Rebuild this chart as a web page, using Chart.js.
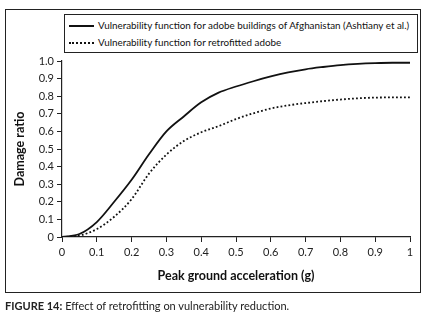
<!DOCTYPE html>
<html>
<head>
<meta charset="utf-8">
<script src="https://cdn.jsdelivr.net/npm/chart.js@4.4.1/dist/chart.umd.min.js"></script>
<style>
  html, body { margin: 0; padding: 0; background: #fff; }
  #wrap { position: relative; width: 427px; height: 323px; overflow: hidden; font-family: Lato, "Open Sans", sans-serif; }
  #c { position: absolute; left: 0; top: 0; }
  #frame { position: absolute; left: 5px; top: 9px; width: 414px; height: 282px; border: 1.5px solid #222; }
  #legend { position: absolute; left: 64px; top: 14px; width: 352px; height: 37px; border: 1.2px solid #222; background: #fff; }
  .li { position: absolute; left: 0; height: 14px; font-size: 9.85px; color: #111; white-space: nowrap; }
  .li .sw { position: absolute; left: 4px; top: 7px; width: 25px; height: 0; }
  .li .tx { position: absolute; left: 33px; top: 0; line-height: 14px; }
  #caption { position: absolute; left: 5px; top: 299px; font-size: 11px; color: #222; white-space: nowrap; }
</style>
</head>
<body>
<div id="wrap">
  <div id="frame"></div>
  <canvas id="c" width="427" height="323"></canvas>
  <div id="legend">
    <div class="li" style="top:3px"><div class="sw" style="border-top:2px solid #111"></div><div class="tx" id="l0"></div></div>
    <div class="li" style="top:20px"><div class="sw" style="border-top:2px dotted #111"></div><div class="tx" id="l1"></div></div>
  </div>
  <div id="caption"><b>FIGURE 14:</b> Effect of retrofitting on vulnerability reduction.</div>
</div>
<script>
// ---- data ----
const pga = [0, 0.05, 0.1, 0.15, 0.2, 0.25, 0.3, 0.35, 0.4, 0.45, 0.5, 0.55, 0.6, 0.65, 0.7, 0.75, 0.8, 0.85, 0.9, 0.95, 1.0];
const adobeDamage = [0, 0.017, 0.085, 0.2, 0.325, 0.47, 0.6, 0.685, 0.765, 0.82, 0.855, 0.885, 0.912, 0.935, 0.953, 0.966, 0.977, 0.984, 0.988, 0.99, 0.99];
const retrofittedDamage = [0, 0.008, 0.045, 0.115, 0.215, 0.36, 0.468, 0.545, 0.595, 0.63, 0.67, 0.703, 0.73, 0.748, 0.761, 0.772, 0.781, 0.788, 0.792, 0.793, 0.793];
const seriesNames = ["Vulnerability function for adobe buildings of Afghanistan (Ashtiany et al.)", "Vulnerability function for retrofitted adobe"];
const xTickLabels = ["0", "0.1", "0.2", "0.3", "0.4", "0.5", "0.6", "0.7", "0.8", "0.9", "1"];
const yTickLabels = ["0", "0.1", "0.2", "0.3", "0.4", "0.5", "0.6", "0.7", "0.8", "0.9", "1.0"];
const xTitle = "Peak ground acceleration (g)";
const yTitle = "Damage ratio";

document.getElementById('l0').textContent = seriesNames[0];
document.getElementById('l1').textContent = seriesNames[1];

const FONT = 'Lato, "Open Sans", sans-serif';
const toXY = arr => arr.map((v, i) => ({ x: pga[i], y: v }));

new Chart(document.getElementById('c'), {
  type: 'line',
  data: {
    datasets: [
      { label: seriesNames[0], data: toXY(adobeDamage), borderColor: '#111', borderWidth: 1.8, pointRadius: 0, cubicInterpolationMode: 'monotone', fill: false },
      { label: seriesNames[1], data: toXY(retrofittedDamage), borderColor: '#111', borderWidth: 1.8, borderDash: [1.8, 2.2], pointRadius: 0, cubicInterpolationMode: 'monotone', fill: false }
    ]
  },
  options: {
    responsive: false,
    animation: false,
    devicePixelRatio: 1,
    layout: { padding: { left: 0, right: 17, top: 61, bottom: 40 } },
    plugins: { legend: { display: false }, tooltip: { enabled: false } },
    scales: {
      x: {
        type: 'linear', min: 0, max: 1,
        afterFit: s => { s.height = 46; },
        ticks: { stepSize: 0.1, autoSkip: false, maxRotation: 0, padding: 4, color: '#222', font: { family: FONT, size: 11 },
                 callback: (v, i) => xTickLabels[i] },
        grid: { drawOnChartArea: false, drawTicks: true, tickLength: 5, color: '#222', lineWidth: 1 },
        border: { display: true, color: '#222', width: 1.2 },
        title: { display: true, text: xTitle, color: '#111', font: { family: FONT, size: 12.5, weight: 'bold' }, padding: { top: 8, bottom: 0 } }
      },
      y: {
        type: 'linear', min: 0, max: 1,
        afterFit: s => { s.width = 62; },
        ticks: { stepSize: 0.1, autoSkip: false, padding: 3, color: '#222', font: { family: FONT, size: 11 },
                 callback: (v, i) => yTickLabels[i] },
        grid: { drawOnChartArea: false, drawTicks: true, tickLength: 5, color: '#222', lineWidth: 1 },
        border: { display: true, color: '#222', width: 1.2 },
        title: { display: true, text: yTitle, color: '#111', font: { family: FONT, size: 12.5, weight: 'bold' }, padding: { top: 12, bottom: 0 } }
      }
    }
  }
});
</script>
</body>
</html>
